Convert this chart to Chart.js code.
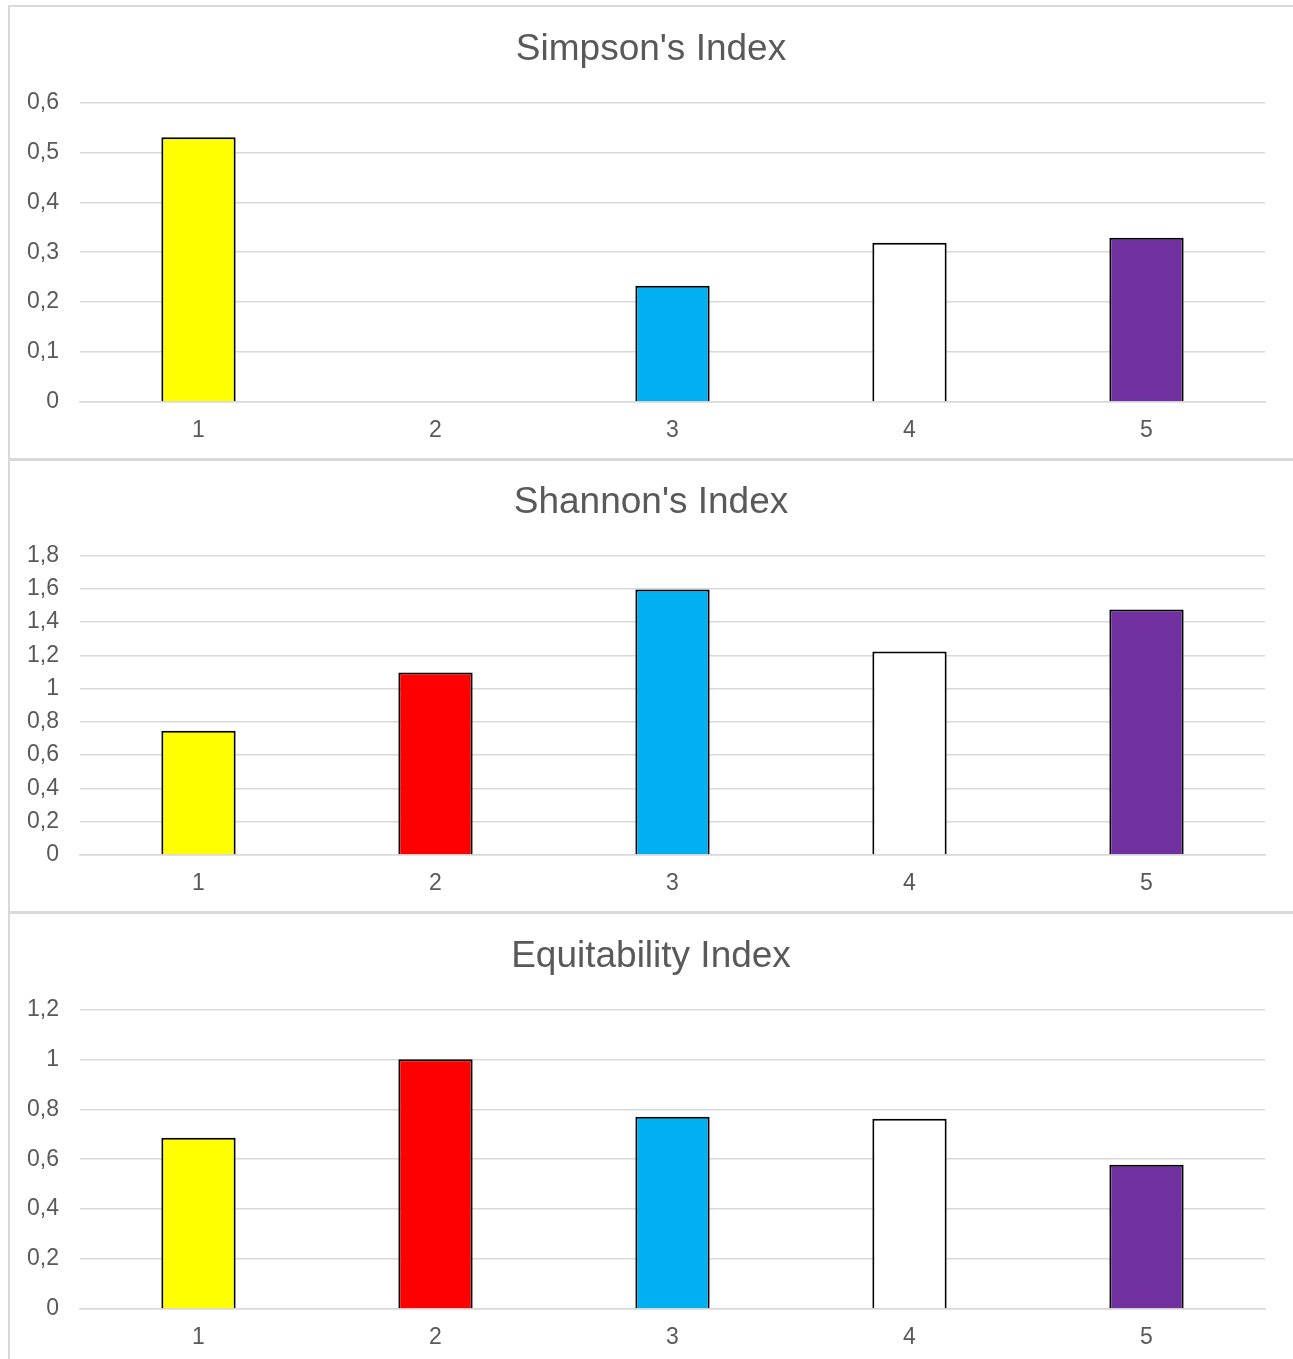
<!DOCTYPE html>
<html>
<head>
<meta charset="utf-8">
<script src="https://cdn.jsdelivr.net/npm/chart.js@4"></script>
<style>
  html, body { margin: 0; padding: 0; background: #ffffff; }
  body { width: 1293px; height: 1359px; position: relative; overflow: hidden; }
  .panel { position: absolute; left: 8px; width: 1287px; height: 456px; box-sizing: border-box;
           border: 2px solid #d9d9d9; }
  canvas { position: absolute; left: 0; }
</style>
</head>
<body>
<div class="panel" style="top:5px"></div>
<div class="panel" style="top:458px"></div>
<div class="panel" style="top:911px"></div>
<canvas id="c1" width="1302" height="453" style="top:7px"></canvas>
<canvas id="c2" width="1302" height="453" style="top:460px"></canvas>
<canvas id="c3" width="1302" height="453" style="top:914px"></canvas>
<script>
// Sites / samples along the x axis
const categories = ['1', '2', '3', '4', '5'];
const barColors = ['#FFFF00', '#FF0000', '#00B0F0', '#FFFFFF', '#7030A0'];

// Diversity index values per sample
const simpsonValues = [0.53, 0, 0.233, 0.319, 0.329];
const shannonValues = [0.747, 1.096, 1.595, 1.222, 1.475];
const equitabilityValues = [0.686, 1.0, 0.770, 0.762, 0.578];

// Y-axis tick labels (decimal comma)
const simpsonTicks = ['0', '0,1', '0,2', '0,3', '0,4', '0,5', '0,6'];
const shannonTicks = ['0', '0,2', '0,4', '0,6', '0,8', '1', '1,2', '1,4', '1,6', '1,8'];
const equitabilityTicks = ['0', '0,2', '0,4', '0,6', '0,8', '1', '1,2'];

const textColor = '#595959';
const gridColor = '#d9d9d9';
const fontFamily = 'Liberation Sans, Arial, sans-serif';

function makeChart(id, title, values, tickLabels, step) {
  const max = step * (tickLabels.length - 1);
  return new Chart(document.getElementById(id), {
    type: 'bar',
    data: {
      labels: categories,
      datasets: [{
        data: values,
        backgroundColor: barColors,
        borderColor: '#000000',
        borderWidth: 2,
        categoryPercentage: 1,
        barPercentage: 0.3135
      }]
    },
    options: {
      responsive: false,
      animation: false,
      devicePixelRatio: 1,
      layout: { padding: 0 },
      plugins: {
        legend: { display: false },
        tooltip: { enabled: false },
        title: {
          display: true,
          text: title,
          color: textColor,
          font: { family: fontFamily, size: 37, weight: 'normal', lineHeight: 1.2 },
          padding: { top: 21, bottom: 30 }
        }
      },
      scales: {
        x: {
          z: 1,
          grid: { display: false, drawTicks: false },
          border: { display: true, color: gridColor, width: 1.5 },
          ticks: {
            color: textColor,
            padding: 15,
            font: { family: fontFamily, size: 23, lineHeight: 1.2 }
          },
          afterFit: (scale) => { scale.height = 58; }
        },
        y: {
          min: 0,
          max: max,
          grid: { color: gridColor, lineWidth: 1.5, drawTicks: false },
          border: { display: false },
          ticks: {
            stepSize: step,
            color: textColor,
            padding: 21,
            font: { family: fontFamily, size: 23, lineHeight: 1.2 },
            callback: (value, index) => tickLabels[index]
          },
          afterFit: (scale) => { scale.width = 80; }
        },
        // empty right-hand margin of the plot area
        pad: {
          type: 'linear',
          position: 'right',
          grid: { display: false, drawTicks: false },
          border: { display: false },
          ticks: { display: false },
          afterFit: (scale) => { scale.width = 37; }
        }
      }
    }
  });
}

makeChart('c1', "Simpson's Index", simpsonValues, simpsonTicks, 0.1);
makeChart('c2', "Shannon's Index", shannonValues, shannonTicks, 0.2);
makeChart('c3', 'Equitability Index', equitabilityValues, equitabilityTicks, 0.2);
</script>
</body>
</html>
